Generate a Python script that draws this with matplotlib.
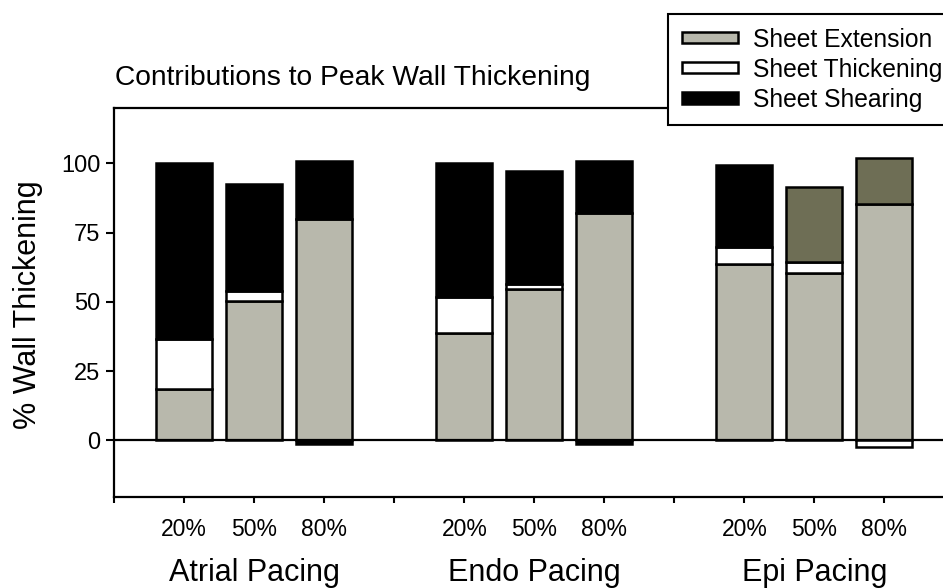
import numpy as np
import matplotlib
matplotlib.use("Agg")
import matplotlib.pyplot as plt

plt.rcParams["font.family"] = ["Liberation Sans", "DejaVu Sans"]

groups = ["Atrial Pacing", "Endo Pacing", "Epi Pacing"]
levels = ["20%", "50%", "80%"]

# values per bar: Atrial 20/50/80, Endo 20/50/80, Epi 20/50/80
extension = [18.5, 50.2, 80.0, 38.7, 54.6, 82.0, 63.5, 60.5, 85.5]
thickening = [18.2, 3.8, -1.5, 13.0, 1.7, -1.3, 6.3, 3.9, -2.3]
shearing = [63.4, 38.6, 20.7, 48.4, 40.8, 19.0, 29.5, 27.0, 16.5]

ext = np.array(extension)
thk = np.array(thickening)
shr = np.array(shearing)

# bar positions: three groups of three with a gap
x = np.array([1, 2, 3, 5, 6, 7, 9, 10, 11])
w = 0.8

gray = "#b8b8ac"
olive = "#6e6e55"
shear_colors = ["black"] * 7 + [olive, olive]

fig = plt.figure(figsize=(9.43, 5.88), dpi=100)
ax = fig.add_axes([0.1212, 0.1548, 0.891, 0.6615])

ax.bar(x, ext, w, color=gray, edgecolor="black", linewidth=1.8,
       label="Sheet Extension", zorder=3)
thk_bottom = np.where(thk >= 0, ext, 0)
# tiny negative thickening in the atrial/endo 80% bars shows up as a black sliver
thk_face = ["white" if (t > 0 or t < -2) else "black" for t in thickening]
ax.bar(x, thk, w, bottom=thk_bottom, color=thk_face, edgecolor="black",
       linewidth=1.8, label="Sheet Thickening", zorder=3)
shr_bottom = ext + np.clip(thk, 0, None)
ax.bar(x, shr, w, bottom=shr_bottom, color=shear_colors, edgecolor="black",
       linewidth=1.8, label="Sheet Shearing", zorder=3)

ax.axhline(0, color="black", linewidth=1.6, zorder=4)

ax.set_xlim(0, 12)
ax.set_ylim(-20.5, 120)
ax.set_yticks([0, 25, 50, 75, 100])
ax.set_xticks(np.arange(0, 13))
ax.set_xticklabels([])
ax.tick_params(axis="y", labelsize=17, direction="out", length=6, width=1.5, pad=4)
ax.tick_params(axis="x", direction="out", length=4, width=1.5)
for s in ax.spines.values():
    s.set_linewidth(1.6)

for xi, lab in zip(x, levels * 3):
    ax.text(xi, -34.7, lab, ha="center", va="baseline", fontsize=16.5,
            clip_on=False)
for gi, g in enumerate(groups):
    ax.text(2 + 4 * gi, -51, g, ha="center", va="baseline", fontsize=22,
            clip_on=False)

fig.text(28.5 / 943, 1 - 305 / 588, "% Wall Thickening", rotation=90,
         ha="center", va="center", fontsize=22)
fig.text(115 / 943, 1 - 85 / 588, "Contributions to Peak Wall Thickening",
         ha="left", va="baseline", fontsize=20.3)

h, l = ax.get_legend_handles_labels()
leg = fig.legend(h, l, loc="upper left", bbox_to_anchor=(668 / 943, 1 - 14 / 588),
                 fontsize=17.7, frameon=True, fancybox=False, edgecolor="black",
                 framealpha=1, handlelength=2.3, handleheight=0.33,
                 handletextpad=0.6, labelspacing=0.25, borderpad=0.55,
                 borderaxespad=0)
leg.get_frame().set_linewidth(1.5)
for p, c in zip(leg.get_patches(), [gray, "white", "black"]):
    p.set_edgecolor("black")
    p.set_facecolor(c)

fig.savefig("out.png", dpi=100)
